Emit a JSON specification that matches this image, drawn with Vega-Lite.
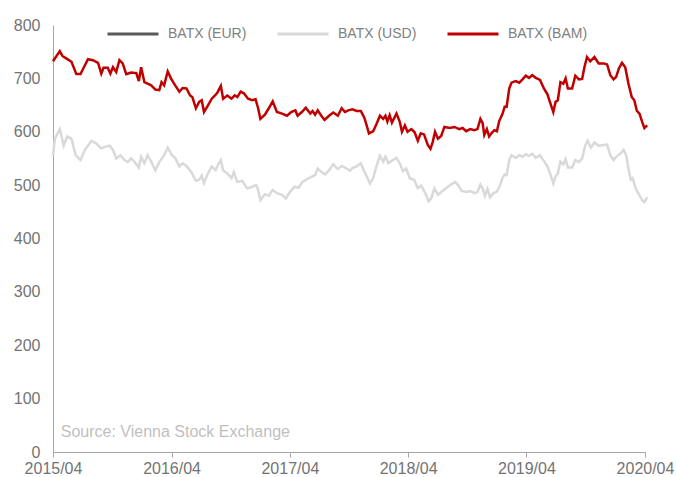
{
  "$schema": "https://vega.github.io/schema/vega-lite/v6.json",
  "width": 592,
  "height": 427,
  "autosize": {"type": "none"},
  "padding": {"left": 53, "top": 25, "right": 31, "bottom": 25},
  "background": "white",
  "config": {
    "view": {"stroke": null},
    "font": "Liberation Sans",
    "axis": {"labelFont": "Liberation Sans", "labelColor": "#737373", "labelFontSize": 16, "grid": false, "domainColor": "#a6a6a6", "tickColor": "#a6a6a6", "title": null}
  },
  "datasets": {
    "usd": [
      {"d":"2015-04-01","v":556},{"d":"2015-04-07","v":587},{"d":"2015-04-22","v":605},{"d":"2015-05-04","v":574},{"d":"2015-05-15","v":591},{"d":"2015-05-28","v":587},{"d":"2015-06-10","v":556},{"d":"2015-06-25","v":547},{"d":"2015-07-08","v":566},{"d":"2015-07-29","v":583},{"d":"2015-08-13","v":578},{"d":"2015-08-28","v":569},{"d":"2015-09-10","v":572},{"d":"2015-09-23","v":574},{"d":"2015-10-03","v":566},{"d":"2015-10-13","v":550},{"d":"2015-10-26","v":556},{"d":"2015-11-08","v":547},{"d":"2015-11-18","v":543},{"d":"2015-11-28","v":550},{"d":"2015-12-08","v":544},{"d":"2015-12-22","v":533},{"d":"2015-12-29","v":553},
      {"d":"2016-01-08","v":541},{"d":"2016-01-18","v":556},{"d":"2016-01-29","v":544},{"d":"2016-02-11","v":528},{"d":"2016-02-23","v":543},{"d":"2016-03-09","v":556},{"d":"2016-03-20","v":570},{"d":"2016-04-02","v":556},{"d":"2016-04-12","v":551},{"d":"2016-04-25","v":535},{"d":"2016-05-05","v":541},{"d":"2016-05-17","v":536},{"d":"2016-05-31","v":525},{"d":"2016-06-15","v":508},{"d":"2016-06-25","v":510},{"d":"2016-07-03","v":518},{"d":"2016-07-10","v":504},{"d":"2016-07-20","v":519},{"d":"2016-08-03","v":535},{"d":"2016-08-15","v":528},{"d":"2016-08-23","v":539},{"d":"2016-08-31","v":547},{"d":"2016-09-07","v":528},{"d":"2016-09-20","v":522},{"d":"2016-10-03","v":513},{"d":"2016-10-10","v":524},{"d":"2016-10-21","v":506},{"d":"2016-11-05","v":508},{"d":"2016-11-20","v":494},{"d":"2016-12-06","v":497},{"d":"2016-12-18","v":500},{"d":"2016-12-24","v":491},{"d":"2016-12-31","v":472},
      {"d":"2017-01-14","v":483},{"d":"2017-01-26","v":480},{"d":"2017-02-07","v":491},{"d":"2017-02-20","v":485},{"d":"2017-03-08","v":482},{"d":"2017-03-20","v":475},{"d":"2017-04-02","v":488},{"d":"2017-04-16","v":497},{"d":"2017-04-28","v":495},{"d":"2017-05-10","v":506},{"d":"2017-05-23","v":511},{"d":"2017-06-08","v":516},{"d":"2017-06-18","v":519},{"d":"2017-06-26","v":531},{"d":"2017-07-07","v":525},{"d":"2017-07-19","v":520},{"d":"2017-07-31","v":528},{"d":"2017-08-13","v":539},{"d":"2017-08-27","v":530},{"d":"2017-09-08","v":536},{"d":"2017-09-18","v":533},{"d":"2017-10-04","v":527},{"d":"2017-10-11","v":532},{"d":"2017-10-24","v":535},{"d":"2017-11-06","v":541},{"d":"2017-11-17","v":525},{"d":"2017-11-27","v":513},{"d":"2017-12-04","v":503},{"d":"2017-12-14","v":513},{"d":"2017-12-24","v":535},
      {"d":"2018-01-04","v":555},{"d":"2018-01-14","v":544},{"d":"2018-01-21","v":553},{"d":"2018-01-30","v":541},{"d":"2018-02-08","v":545},{"d":"2018-02-24","v":551},{"d":"2018-03-06","v":541},{"d":"2018-03-16","v":526},{"d":"2018-03-26","v":531},{"d":"2018-04-06","v":513},{"d":"2018-04-19","v":510},{"d":"2018-05-01","v":494},{"d":"2018-05-11","v":499},{"d":"2018-05-24","v":485},{"d":"2018-06-03","v":470},{"d":"2018-06-11","v":475},{"d":"2018-06-21","v":494},{"d":"2018-07-02","v":482},{"d":"2018-07-14","v":488},{"d":"2018-07-27","v":494},{"d":"2018-08-12","v":501},{"d":"2018-08-24","v":506},{"d":"2018-09-01","v":501},{"d":"2018-09-13","v":489},{"d":"2018-09-27","v":487},{"d":"2018-10-10","v":489},{"d":"2018-10-22","v":485},{"d":"2018-11-01","v":487},{"d":"2018-11-10","v":501},{"d":"2018-11-17","v":494},{"d":"2018-11-24","v":480},{"d":"2018-12-02","v":493},{"d":"2018-12-10","v":477},{"d":"2018-12-20","v":485},{"d":"2018-12-31","v":488},
      {"d":"2019-01-10","v":500},{"d":"2019-01-17","v":513},{"d":"2019-01-24","v":520},{"d":"2019-01-30","v":519},{"d":"2019-02-07","v":547},{"d":"2019-02-14","v":556},{"d":"2019-02-27","v":551},{"d":"2019-03-10","v":556},{"d":"2019-03-20","v":553},{"d":"2019-03-30","v":558},{"d":"2019-04-09","v":555},{"d":"2019-04-19","v":559},{"d":"2019-04-30","v":551},{"d":"2019-05-13","v":556},{"d":"2019-05-25","v":545},{"d":"2019-06-05","v":535},{"d":"2019-06-13","v":522},{"d":"2019-06-23","v":503},{"d":"2019-06-30","v":516},{"d":"2019-07-07","v":522},{"d":"2019-07-15","v":544},{"d":"2019-07-24","v":539},{"d":"2019-07-31","v":549},{"d":"2019-08-07","v":533},{"d":"2019-08-20","v":533},{"d":"2019-08-30","v":547},{"d":"2019-09-10","v":543},{"d":"2019-09-20","v":550},{"d":"2019-09-30","v":575},{"d":"2019-10-07","v":583},{"d":"2019-10-17","v":570},{"d":"2019-10-28","v":580},{"d":"2019-11-10","v":574},{"d":"2019-11-26","v":575},{"d":"2019-12-06","v":576},{"d":"2019-12-16","v":556},{"d":"2019-12-26","v":547},
      {"d":"2020-01-03","v":553},{"d":"2020-01-16","v":559},{"d":"2020-01-26","v":566},{"d":"2020-02-03","v":556},{"d":"2020-02-10","v":531},{"d":"2020-02-17","v":510},{"d":"2020-02-23","v":513},{"d":"2020-03-03","v":494},{"d":"2020-03-11","v":485},{"d":"2020-03-23","v":472},{"d":"2020-03-30","v":468},{"d":"2020-04-08","v":477}
    ],
    "bam": [
      {"d":"2015-04-01","v":732},{"d":"2015-04-22","v":751},{"d":"2015-04-30","v":742},{"d":"2015-05-13","v":737},{"d":"2015-05-28","v":731},{"d":"2015-06-12","v":708},{"d":"2015-06-25","v":708},{"d":"2015-07-03","v":718},{"d":"2015-07-18","v":736},{"d":"2015-08-02","v":734},{"d":"2015-08-18","v":729},{"d":"2015-08-28","v":709},{"d":"2015-09-04","v":720},{"d":"2015-09-17","v":720},{"d":"2015-09-25","v":709},{"d":"2015-10-03","v":721},{"d":"2015-10-13","v":712},{"d":"2015-10-23","v":734},{"d":"2015-11-02","v":728},{"d":"2015-11-13","v":708},{"d":"2015-11-28","v":711},{"d":"2015-12-14","v":710},{"d":"2015-12-22","v":695},{"d":"2015-12-29","v":721},
      {"d":"2016-01-08","v":693},{"d":"2016-01-18","v":690},{"d":"2016-01-29","v":687},{"d":"2016-02-11","v":679},{"d":"2016-02-23","v":678},{"d":"2016-03-01","v":693},{"d":"2016-03-09","v":687},{"d":"2016-03-20","v":713},{"d":"2016-03-30","v":700},{"d":"2016-04-12","v":687},{"d":"2016-04-25","v":675},{"d":"2016-05-05","v":682},{"d":"2016-05-17","v":681},{"d":"2016-05-28","v":668},{"d":"2016-06-04","v":665},{"d":"2016-06-15","v":644},{"d":"2016-06-25","v":656},{"d":"2016-07-03","v":659},{"d":"2016-07-10","v":637},{"d":"2016-07-20","v":647},{"d":"2016-08-03","v":662},{"d":"2016-08-13","v":668},{"d":"2016-08-20","v":673},{"d":"2016-08-31","v":686},{"d":"2016-09-07","v":662},{"d":"2016-09-20","v":668},{"d":"2016-10-03","v":662},{"d":"2016-10-13","v":668},{"d":"2016-10-21","v":665},{"d":"2016-10-31","v":675},{"d":"2016-11-10","v":672},{"d":"2016-11-23","v":662},{"d":"2016-12-06","v":659},{"d":"2016-12-16","v":661},{"d":"2016-12-24","v":644},{"d":"2016-12-31","v":624},
      {"d":"2017-01-14","v":632},{"d":"2017-01-26","v":644},{"d":"2017-02-07","v":657},{"d":"2017-02-20","v":637},{"d":"2017-03-08","v":634},{"d":"2017-03-23","v":630},{"d":"2017-04-05","v":637},{"d":"2017-04-18","v":640},{"d":"2017-04-25","v":630},{"d":"2017-05-08","v":637},{"d":"2017-05-20","v":645},{"d":"2017-06-03","v":634},{"d":"2017-06-10","v":639},{"d":"2017-06-18","v":632},{"d":"2017-06-26","v":640},{"d":"2017-07-07","v":630},{"d":"2017-07-17","v":622},{"d":"2017-07-31","v":630},{"d":"2017-08-13","v":636},{"d":"2017-08-27","v":630},{"d":"2017-09-08","v":644},{"d":"2017-09-18","v":637},{"d":"2017-09-28","v":640},{"d":"2017-10-11","v":642},{"d":"2017-10-24","v":639},{"d":"2017-11-06","v":639},{"d":"2017-11-17","v":626},{"d":"2017-11-24","v":612},{"d":"2017-12-01","v":597},{"d":"2017-12-14","v":601},{"d":"2017-12-24","v":614},
      {"d":"2018-01-04","v":630},{"d":"2018-01-14","v":624},{"d":"2018-01-21","v":630},{"d":"2018-01-27","v":619},{"d":"2018-02-03","v":631},{"d":"2018-02-10","v":617},{"d":"2018-02-24","v":634},{"d":"2018-03-06","v":619},{"d":"2018-03-13","v":600},{"d":"2018-03-22","v":612},{"d":"2018-03-30","v":600},{"d":"2018-04-11","v":605},{"d":"2018-04-21","v":599},{"d":"2018-05-01","v":583},{"d":"2018-05-10","v":597},{"d":"2018-05-20","v":595},{"d":"2018-06-01","v":575},{"d":"2018-06-09","v":568},{"d":"2018-06-16","v":581},{"d":"2018-06-23","v":600},{"d":"2018-07-02","v":587},{"d":"2018-07-12","v":592},{"d":"2018-07-22","v":609},{"d":"2018-08-07","v":607},{"d":"2018-08-22","v":609},{"d":"2018-09-06","v":605},{"d":"2018-09-16","v":607},{"d":"2018-09-27","v":601},{"d":"2018-10-10","v":605},{"d":"2018-10-22","v":603},{"d":"2018-11-01","v":605},{"d":"2018-11-10","v":624},{"d":"2018-11-17","v":616},{"d":"2018-11-22","v":594},{"d":"2018-11-30","v":605},{"d":"2018-12-07","v":591},{"d":"2018-12-14","v":597},{"d":"2018-12-23","v":603},{"d":"2018-12-31","v":601},
      {"d":"2019-01-07","v":620},{"d":"2019-01-17","v":633},{"d":"2019-01-24","v":647},{"d":"2019-01-30","v":647},{"d":"2019-02-07","v":681},{"d":"2019-02-14","v":692},{"d":"2019-02-27","v":695},{"d":"2019-03-10","v":692},{"d":"2019-03-20","v":698},{"d":"2019-03-30","v":705},{"d":"2019-04-09","v":701},{"d":"2019-04-19","v":706},{"d":"2019-04-30","v":701},{"d":"2019-05-13","v":697},{"d":"2019-05-25","v":681},{"d":"2019-06-05","v":670},{"d":"2019-06-13","v":655},{"d":"2019-06-23","v":637},{"d":"2019-06-30","v":656},{"d":"2019-07-07","v":659},{"d":"2019-07-15","v":693},{"d":"2019-07-24","v":690},{"d":"2019-07-31","v":700},{"d":"2019-08-07","v":681},{"d":"2019-08-20","v":681},{"d":"2019-08-30","v":705},{"d":"2019-09-10","v":698},{"d":"2019-09-20","v":699},{"d":"2019-09-27","v":721},{"d":"2019-10-05","v":740},{"d":"2019-10-15","v":732},{"d":"2019-10-28","v":740},{"d":"2019-11-10","v":728},{"d":"2019-11-26","v":728},{"d":"2019-12-06","v":726},{"d":"2019-12-16","v":706},{"d":"2019-12-26","v":698},
      {"d":"2020-01-03","v":703},{"d":"2020-01-11","v":718},{"d":"2020-01-21","v":729},{"d":"2020-01-31","v":721},{"d":"2020-02-10","v":690},{"d":"2020-02-20","v":665},{"d":"2020-02-28","v":659},{"d":"2020-03-07","v":639},{"d":"2020-03-15","v":634},{"d":"2020-03-23","v":619},{"d":"2020-03-30","v":607},{"d":"2020-04-08","v":612}
    ],
    "note": [
      {"d":"2015-04-25","v":37,"t":"Source: Vienna Stock Exchange"}
    ]
  },
  "layer": [
    {
      "data": {"name": "usd"},
      "mark": {"type": "line", "strokeWidth": 2.5},
      "encoding": {
        "x": {
          "field": "d", "type": "temporal",
          "scale": {"type": "utc", "domain": [{"year": 2015, "month": 4, "date": 1, "utc": true}, {"year": 2020, "month": 4, "date": 1, "utc": true}]},
          "axis": {
            "values": [
              {"year": 2015, "month": 4, "date": 1, "utc": true},
              {"year": 2016, "month": 4, "date": 1, "utc": true},
              {"year": 2017, "month": 4, "date": 1, "utc": true},
              {"year": 2018, "month": 4, "date": 1, "utc": true},
              {"year": 2019, "month": 4, "date": 1, "utc": true},
              {"year": 2020, "month": 4, "date": 1, "utc": true}
            ],
            "format": "%Y/%m", "tickSize": 5, "labelPadding": 3, "labelFlush": false, "labelOverlap": false
          }
        },
        "y": {
          "field": "v", "type": "quantitative",
          "scale": {"domain": [0, 800], "nice": false},
          "axis": {"values": [0, 100, 200, 300, 400, 500, 600, 700, 800], "ticks": false, "labelPadding": 13}
        },
        "color": {
          "datum": "BATX (USD)",
          "scale": {"domain": ["BATX (EUR)", "BATX (USD)", "BATX (BAM)"], "range": ["#595959", "#d9d9d9", "#c00000"]},
          "legend": {
            "orient": "none", "legendX": 53, "legendY": -18, "direction": "horizontal", "title": null,
            "symbolType": "stroke", "symbolSize": 2601, "symbolStrokeWidth": 3,
            "labelFont": "Liberation Sans", "labelFontSize": 14, "labelColor": "#808080", "labelOffset": 8, "columnPadding": 24
          }
        }
      }
    },
    {
      "data": {"name": "bam"},
      "mark": {"type": "line", "strokeWidth": 2.5},
      "encoding": {
        "x": {"field": "d", "type": "temporal"},
        "y": {"field": "v", "type": "quantitative"},
        "color": {"datum": "BATX (BAM)"}
      }
    },
    {
      "data": {"name": "note"},
      "mark": {"type": "text", "align": "left", "baseline": "middle", "font": "Liberation Sans", "fontSize": 16, "color": "#bfbfbf"},
      "encoding": {
        "x": {"field": "d", "type": "temporal"},
        "y": {"field": "v", "type": "quantitative"},
        "text": {"field": "t"}
      }
    }
  ]
}
